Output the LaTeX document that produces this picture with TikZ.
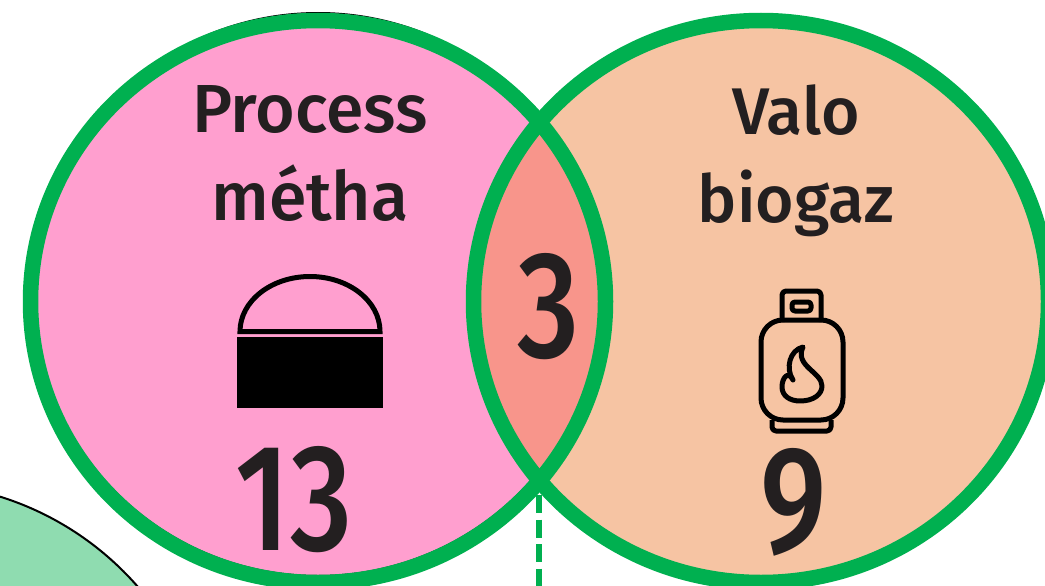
\documentclass[tikz,border=0pt]{standalone}
\usepackage{fontspec}
\setmainfont{Fira Sans Medium}
\newfontfamily\numfont[FakeStretch=0.8]{Fira Sans Medium}
\definecolor{ringgreen}{HTML}{00B050}
\definecolor{methapink}{HTML}{FF9FCF}
\definecolor{valopeach}{HTML}{F6C4A3}
\definecolor{lensred}{HTML}{F8958B}
\definecolor{blobgreen}{HTML}{8FDCB0}
\definecolor{inkblack}{HTML}{231F20}
\tikzset{
  ring/.style = {draw=ringgreen, line width=15.5pt},
  title/.style = {text=inkblack, align=center, font=\fontsize{66}{88}\selectfont},
  count/.style = {text=inkblack, font=\numfont\fontsize{152}{152}\selectfont},
  icon/.style = {line width=5pt, line join=round, draw=black}
}
\begin{document}
\begin{tikzpicture}[x=1pt,y=-1pt]
\useasboundingbox (0,0) rectangle (1045,586);
\clip (0,0) rectangle (1045,586);

% blob bottom left
\fill[blobgreen] (-90,785) circle (302);
\draw[black, line width=2pt] (-90,785) circle (302);

% two sets
\draw[black, line width=1pt, fill=methapink] (318,294) ellipse (284 and 281.5);
\fill[valopeach] (761,301.5) ellipse (287.5 and 281);
\begin{scope}
  \clip (318,301.5) ellipse (287.5 and 281);
  \fill[lensred] (761,301.5) ellipse (287.5 and 281);
\end{scope}
\draw[ring] (318,301.5) ellipse (287.5 and 281);
\draw[ring] (761,301.5) ellipse (287.5 and 281);

% dashed link
\coordinate (linktop) at (539,495);
\coordinate (linkend) at (539,600);
\draw[ringgreen, line width=6pt, dash pattern=on 18pt off 6.5pt] (linktop) -- (linkend);

% texts
\node[title, font=\fontsize{68}{88}\selectfont] (metha) at (310,154) {Process\\métha};
\node[title] (valo) at (796,161) {Valo\\biogaz};
\node[count] (nmetha) at (294,500) {13};
\node[count] (nvalo) at (794,502) {9};
\node[count] (nboth) at (549,307) {3};

% digester icon
\fill[black] (237,337) rectangle (383,408);
\draw[black, line width=5pt] (240,331.5) arc (180:360:70 and 55) -- cycle;

% bottle icon
\draw[icon, rounded corners=4pt] (782,322) -- (782,291) -- (821,291) -- (821,322);
\draw[icon, rounded corners=3pt] (792,302) rectangle (811,311);
\draw[icon, rounded corners=22pt] (761,320) rectangle (843,420);
\draw[icon, rounded corners=4pt] (772,420) -- (772,431) -- (831,431) -- (831,420);
\draw[icon] (803,347) .. controls (790,350) and (785,368) .. (793,380) .. controls (788,370) and (782,378) .. (782,387) .. controls (782,396) and (790,401) .. (800,401) .. controls (814,401) and (822,394) .. (822,386) .. controls (822,372) and (794,366) .. (803,347) -- cycle;
\end{tikzpicture}
\end{document}
